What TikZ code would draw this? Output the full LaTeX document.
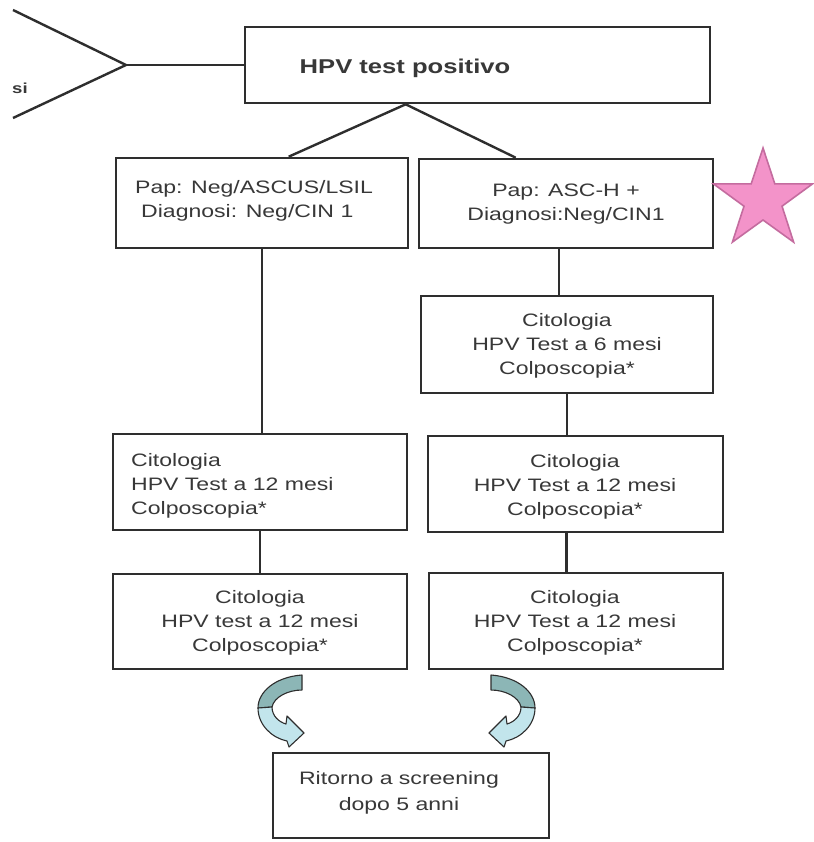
\documentclass[tikz,border=0pt]{standalone}
\usepackage{fontspec}
\setmainfont{Liberation Sans}
\newfontfamily\widefont[FakeStretch=1.28]{Liberation Sans}
\usetikzlibrary{calc}

\definecolor{ink}{HTML}{2E2E2E}
\definecolor{txt}{HTML}{383838}
\definecolor{tealdark}{HTML}{8CB6B6}
\definecolor{teallight}{HTML}{C2E5EC}
\definecolor{starfill}{HTML}{F393C9}
\definecolor{starline}{HTML}{C46C9F}

\tikzset{
  x=1pt, y=-1pt,
  box/.style={draw=ink, line width=2.6pt, inner sep=0pt},
  lbl/.style={inner sep=0pt, text=txt, align=center,
    font=\widefont\fontsize{18}{24}\selectfont},
  headlbl/.style={inner sep=0pt, text=txt,
    font=\widefont\bfseries\fontsize{20}{24}\selectfont},
  wire/.style={draw=ink, line width=2.4pt},
  % curved "return" arrow, two-tone band ending in an arrowhead
  bendarrow/.pic={
    \draw[line width=1.1pt, draw=ink, fill=tealdark, line join=round]
      (44,0) .. controls (17,2) and (0,17) .. (0,33) -- (14,32)
      .. controls (16,22) and (30,15) .. (44,15) -- cycle;
    \draw[line width=1.1pt, draw=ink, fill=teallight, line join=round]
      (0,33) .. controls (0,50) and (14,63) .. (29,66) -- (31,72) -- (46,58)
      -- (29,41) -- (28,49) .. controls (21,47) and (14,41) .. (14,32) -- cycle;
  }
}

\begin{document}
\begin{tikzpicture}
\useasboundingbox (0,0) rectangle (813,842);
\fill[white] (0,0) rectangle (813,842);

% boxes
\node[box, minimum width=465, minimum height=76] (top) at (477.5,65) {};
\node[box, minimum width=292, minimum height=90] (L1) at (262,203) {};
\node[box, minimum width=294, minimum height=89] (R1) at (566,203.5) {};
\node[box, minimum width=292, minimum height=97] (R2) at (567,344.5) {};
\node[box, minimum width=294, minimum height=96] (L2) at (260,482) {};
\node[box, minimum width=295, minimum height=96] (R3) at (575.5,484) {};
\node[box, minimum width=294, minimum height=95] (L3) at (260,621.5) {};
\node[box, minimum width=294, minimum height=96] (R4) at (576,621) {};
\node[box, minimum width=276, minimum height=85] (back) at (411,795.5) {};

% texts
\node[headlbl] (topt) at (405,68) {HPV test positivo};
\node[lbl, align=left, anchor=west] (L1t) at (135,201) {Pap: Neg/ASCUS/LSIL\\\hspace{6pt}Diagnosi: Neg/CIN 1};
\node[lbl] (R1t) at (566,204) {Pap: ASC-H +\\Diagnosi:Neg/CIN1};
\node[lbl] (R2t) at (567,346) {Citologia\\HPV Test a 6 mesi\\Colposcopia*};
\node[lbl, align=left, anchor=west] (L2t) at (131,486) {Citologia\\HPV Test a 12 mesi\\Colposcopia*};
\node[lbl] (R3t) at (575,487) {Citologia\\HPV Test a 12 mesi\\Colposcopia*};
\node[lbl] (L3t) at (260,623) {Citologia\\HPV test a 12 mesi\\Colposcopia*};
\node[lbl] (R4t) at (575,623) {Citologia\\HPV Test a 12 mesi\\Colposcopia*};
\node[lbl, font=\widefont\fontsize{18}{26}\selectfont] (backt) at (399,793) {Ritorno a screening\\dopo 5 anni};

% branch on the left of the top box
\coordinate (tri) at (126,65);
\coordinate (triA) at (13,10);
\coordinate (triB) at (13,118);
\draw[wire, line join=miter] (triA) -- (tri) -- (triB);
\draw[wire] (tri) -- (top.west);
\node[headlbl, font=\widefont\bfseries\fontsize{14.5}{16}\selectfont, anchor=west] (sit) at (12,88) {si};

% connectors
\coordinate (apex) at ($(top.south west)+(162,0)$);
\draw[wire] (apex) -- ($(L1.north west)+(174,0)$);
\draw[wire] (apex) -- ($(R1.north west)+(98,0)$);
\draw[wire] (L1.south) -- (L1.south |- L2.north);
\coordinate (r1b) at ($(R1.south)+(-7,0)$);
\draw[wire] (r1b) -- (r1b |- R2.north);
\draw[wire] (R2.south) -- (R2.south |- R3.north);
\coordinate (r3b) at ($(R3.south)+(-9,0)$);
\draw[wire] (r3b) -- (r3b |- R4.north);
\draw[wire] (L2.south) -- (L2.south |- L3.north);

% return arrows
\pic at (258,675) {bendarrow};
\pic[xscale=-1] at (535,675) {bendarrow};

% star
\draw[fill=starfill, draw=starline, line width=1.6pt, line join=miter]
  (763,148) -- (751.2,183.8) -- (713.5,183.9) -- (744,206.2) -- (732.4,242.1)
  -- (763,220) -- (793.6,242.1) -- (782,206.2) -- (812.5,183.9) -- (774.8,183.8) -- cycle;
\end{tikzpicture}
\end{document}
